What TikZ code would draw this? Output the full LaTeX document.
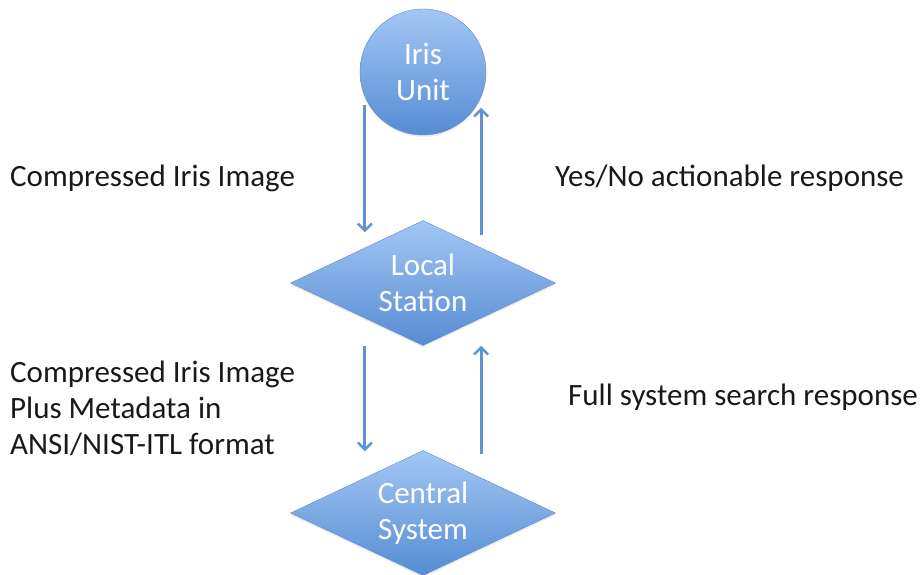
\documentclass[tikz,border=0pt]{standalone}
\usepackage{fontspec}
\setmainfont{Carlito}
\usetikzlibrary{shapes.geometric,arrows.meta,shadows}
\definecolor{boxtop}{RGB}{163,199,244}
\definecolor{boxbot}{RGB}{86,140,212}
\definecolor{boxline}{RGB}{92,140,205}
\definecolor{flowcol}{RGB}{98,146,212}
\definecolor{labelcol}{RGB}{25,25,25}
\begin{document}
\begin{tikzpicture}[x=1pt,y=-1pt]
  \tikzstyle{every node}=[font=\fontsize{31}{36}\selectfont]
  \tikzstyle{unit}=[circle,minimum size=126pt,inner sep=0pt,draw=boxline,top color=boxtop,bottom color=boxbot,
    text=white,align=center,drop shadow={opacity=0.15,shadow xshift=0pt,shadow yshift=-2pt}]
  \tikzstyle{station}=[diamond,aspect=2.12,minimum width=265pt,minimum height=125pt,inner sep=0pt,draw=boxline,
    top color=boxtop,bottom color=boxbot,text=white,align=center,drop shadow={opacity=0.15,shadow xshift=0pt,shadow yshift=-2pt}]
  \tikzstyle{flow}=[draw=flowcol,line width=3pt,-{Straight Barb[length=7pt,width=14pt,line width=2.5pt]}]
  \tikzstyle{msg}=[text=labelcol,align=left,inner sep=0pt]
  \useasboundingbox (0,0) rectangle (920,575);
  \node[unit] (iris) at (423,72) {Iris\\Unit};
  \node[station] (local) at (423,283) {Local\\Station};
  \node[station] (central) at (423,513) {Central\\System};
  % messages
  \node[msg,anchor=west] (m1) at (10,178) {Compressed Iris Image};
  \node[msg,anchor=west] (m2) at (555,178) {Yes/No actionable response};
  \node[msg,anchor=west] (m3) at (10,408) {Compressed Iris Image\\Plus Metadata in\\ANSI/NIST-ITL format};
  \node[msg,anchor=west] (m4) at (568,397) {Full system search response};
  % arrows
  \draw[flow] ([yshift=-8pt]iris.203) -- ([yshift=-12pt]iris.203 |- local.north);
  \draw[flow] ([yshift=-15pt]iris.-23 |- local.north) -- ([yshift=-11pt]iris.-23);
  \draw[flow] (iris.203 |- local.south) -- ([yshift=-1pt]iris.203 |- central.north);
  \draw[flow] ([yshift=-4pt]iris.-23 |- central.north) -- (iris.-23 |- local.south);
\end{tikzpicture}
\end{document}
